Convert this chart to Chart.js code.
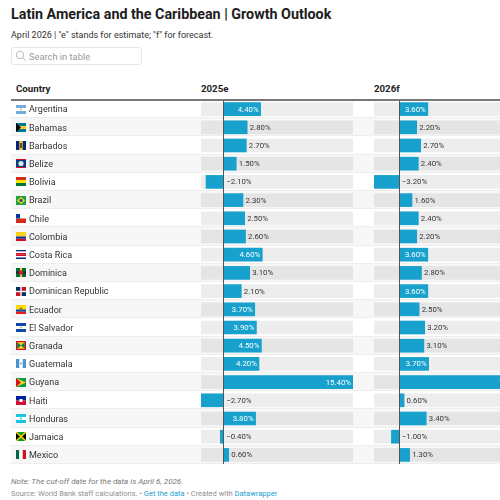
<!DOCTYPE html>
<html>
<head>
<meta charset="utf-8">
<script src="https://cdn.jsdelivr.net/npm/chart.js@4"></script>
<style>
html, body { margin: 0; padding: 0; width: 500px; height: 500px; overflow: hidden; background: #fff; font-family: Roboto, sans-serif; color: #222; }
.abs { position: absolute; white-space: nowrap; }
#title { left: 11px; top: 6px; font-size: 14.3px; font-weight: 700; color: #1d1d1d; }
#sub { left: 11px; top: 30px; font-size: 9px; color: #333; }
#search { left: 11px; top: 47px; width: 129px; height: 16px; border: 1px solid #e6e6e6; border-radius: 3px; }
#search span { position: absolute; left: 17px; top: 3px; font-size: 9.3px; color: #999; }
#search svg { position: absolute; left: 3px; top: 2px; }
.head { top: 83px; font-size: 9.7px; font-weight: 700; color: #222; }
#rule { left: 11px; top: 99px; width: 489px; height: 2px; background: #777; }
.row { position: absolute; left: 11px; width: 489px; box-sizing: border-box; border-bottom: 1px solid #eee; }
.flag { position: absolute; left: 16px; width: 10px; height: 9px; }
#wrap2 { position: absolute; left: 374px; top: 100px; width: 126px; height: 364px; overflow: hidden; }
canvas { display: block; }
#wrap1 { position: absolute; left: 0; top: 100px; }
#note { left: 11px; top: 477px; font-size: 8px; font-style: italic; color: #777; }
#source { left: 11px; top: 489px; font-size: 7.5px; color: #909090; }
#source a { color: #18a1cd; text-decoration: none; }
</style>
</head>
<body>
<div class="abs" id="title">Latin America and the Caribbean | Growth Outlook</div>
<div class="abs" id="sub">April 2026 | "e" stands for estimate; "f" for forecast.</div>
<div class="abs" id="search">
  <svg width="12" height="12" viewBox="0 0 12 12" fill="none" stroke="#bbb" stroke-width="1"><circle cx="5" cy="5" r="3.7"/><path d="M7.8 7.8L11 11"/></svg>
  <span>Search in table</span>
</div>
<div class="abs head" style="left:16px">Country</div>
<div class="abs head" style="left:201px">2025e</div>
<div class="abs head" style="left:374px">2026f</div>
<div id="rows"></div>
<div id="wrap1"><canvas id="chart1" width="353" height="364"></canvas></div>
<div id="wrap2"><canvas id="chart2" width="152" height="364"></canvas></div>
<div class="abs" id="rule"></div>
<div class="abs" id="note">Note: The cut-off date for the data is April 6, 2026.</div>
<div class="abs" id="source">Source: World Bank staff calculations. • <a>Get the data</a> • Created with <a>Datawrapper</a></div>

<script>
var countries = ['Argentina', 'Bahamas', 'Barbados', 'Belize', 'Bolivia', 'Brazil', 'Chile', 'Colombia', 'Costa Rica', 'Dominica',
    'Dominican Republic', 'Ecuador', 'El Salvador', 'Granada', 'Guatemala', 'Guyana', 'Haiti', 'Honduras', 'Jamaica', 'Mexico'];
var growth2025 = [4.4, 2.8, 2.7, 1.5, -2.1, 2.3, 2.5, 2.6, 4.6, 3.1, 2.1, 3.7, 3.9, 4.5, 4.2, 15.4, -2.7, 3.8, -0.4, 0.6];
// Guyana 2026 runs off the page, estimated
var growth2026 = [3.6, 2.2, 2.7, 2.4, -3.2, 1.6, 2.4, 2.2, 3.6, 2.8, 3.6, 2.5, 3.2, 3.1, 3.7, 16.0, 0.6, 3.4, -1.0, 1.3];

var BLUE = '#18a1cd';
var ROW_H = 364 / countries.length;

// small hand drawn flags, just decoration
function bands(colors) {
    var h = 9 / colors.length, s = '';
    colors.forEach(function(c, i) { s += '<rect y="' + (i * h) + '" width="10" height="' + (h + 0.1) + '" fill="' + c + '"/>'; });
    return s;
}
var flags = [
    bands(['#74acdf', '#fff', '#74acdf']) + '<circle cx="5" cy="4.5" r="1" fill="#f6b40e"/>',
    bands(['#00778b', '#ffc72c', '#00778b']) + '<path d="M0 0L5 4.5L0 9Z" fill="#000"/>',
    '<rect width="10" height="9" fill="#ffc726"/><rect width="3.3" height="9" fill="#00267f"/><rect x="6.7" width="3.3" height="9" fill="#00267f"/><rect x="4.4" y="2" width="1.2" height="5" fill="#000"/>',
    '<rect width="10" height="9" fill="#ce1126"/><rect y="1" width="10" height="7" fill="#003f87"/><circle cx="5" cy="4.5" r="2.6" fill="#dfe8d8"/>',
    bands(['#d52b1e', '#f9e300', '#007934']),
    '<rect width="10" height="9" fill="#229e45"/><path d="M5 1L9 4.5L5 8L1 4.5Z" fill="#f8e509"/><circle cx="5" cy="4.5" r="1.7" fill="#2b49a3"/>',
    '<rect width="10" height="4.5" fill="#fff"/><rect y="4.5" width="10" height="4.5" fill="#d52b1e"/><rect width="4" height="4.5" fill="#0039a6"/>',
    '<rect width="10" height="4.5" fill="#fcd116"/><rect y="4.5" width="10" height="2.25" fill="#003893"/><rect y="6.75" width="10" height="2.25" fill="#ce1126"/>',
    bands(['#002b7f', '#fff', '#ce1126', '#ce1126', '#fff', '#002b7f']),
    '<rect width="10" height="9" fill="#006b3f"/><rect x="4" width="2" height="9" fill="#fcd116"/><rect y="3.5" width="10" height="2" fill="#222"/><circle cx="5" cy="4.5" r="2.2" fill="#d41c30"/>',
    '<rect width="10" height="9" fill="#fff"/><rect width="4.3" height="3.8" fill="#002d62"/><rect x="5.7" width="4.3" height="3.8" fill="#ce1126"/><rect y="5.2" width="4.3" height="3.8" fill="#ce1126"/><rect x="5.7" y="5.2" width="4.3" height="3.8" fill="#002d62"/>',
    '<rect width="10" height="4.5" fill="#ffdd00"/><rect y="4.5" width="10" height="2.25" fill="#034ea2"/><rect y="6.75" width="10" height="2.25" fill="#ed1c24"/><circle cx="5" cy="4" r="1.5" fill="#8a6d2f"/>',
    bands(['#0f47af', '#fff', '#0f47af']) + '<circle cx="5" cy="4.5" r="1" fill="#c9b458"/>',
    '<rect width="10" height="9" fill="#ce1126"/><rect x="1.2" y="1.2" width="7.6" height="6.6" fill="#fcd116"/><path d="M1.2 1.2L8.8 7.8V1.2L1.2 7.8Z" fill="#007a5e"/>',
    '<rect width="10" height="9" fill="#4997d0"/><rect x="3.3" width="3.4" height="9" fill="#fff"/><circle cx="5" cy="4.5" r="1" fill="#8bb48c"/>',
    '<rect width="10" height="9" fill="#009e49"/><path d="M0 0L10 4.5L0 9Z" fill="#fcd116"/><path d="M0 0L5 4.5L0 9Z" fill="#ce1126"/>',
    '<rect width="10" height="4.5" fill="#00209f"/><rect y="4.5" width="10" height="4.5" fill="#d21034"/><rect x="3.5" y="3" width="3" height="3" fill="#fff"/>',
    bands(['#18c3df', '#fff', '#18c3df']) + '<circle cx="5" cy="4.5" r="0.9" fill="#18c3df"/>',
    '<rect width="10" height="9" fill="#009b3a"/><path d="M0 0L5 4.5L0 9Z" fill="#000"/><path d="M10 0L5 4.5L10 9Z" fill="#000"/><path d="M0 0L10 9M10 0L0 9" stroke="#fed100" stroke-width="1.5"/>',
    '<rect width="3.3" height="9" fill="#006847"/><rect x="3.3" width="3.4" height="9" fill="#fff"/><rect x="6.7" width="3.3" height="9" fill="#ce1126"/>'
];

// striped rows and flags sit behind the transparent canvases
var rowsHtml = '';
countries.forEach(function(name, i) {
    var top = 100 + i * ROW_H;
    rowsHtml += '<div class="row" style="top:' + top + 'px;height:' + ROW_H + 'px;background:' + (i % 2 ? '#f7f7f7' : '#fff') + '"></div>';
    rowsHtml += '<svg class="flag" style="top:' + (top + 4.6) + 'px" viewBox="0 0 10 9" preserveAspectRatio="none">' + flags[i] + '</svg>';
});
document.getElementById('rows').innerHTML = rowsHtml;

// value labels: white inside the end of long bars, otherwise just right of the bar or zero line
// country names go here too, the axis ticks sit about a pixel too high
var valueLabels = {
    id: 'valueLabels',
    afterDraw: function(chart) {
        var ctx = chart.ctx;
        var meta = chart.getDatasetMeta(0);
        var yScale = chart.scales.y;
        var zero = chart.scales.x.getPixelForValue(0);
        ctx.save();
        ctx.textBaseline = 'middle';
        meta.data.forEach(function(bar, i) {
            var v = chart.data.datasets[0].data[i];
            var text = (v < 0 ? '\u2212' : '') + Math.abs(v).toFixed(2) + '%';
            ctx.font = '7.8px Roboto';
            if (v >= 3.5) {
                ctx.fillStyle = '#fff';
                ctx.textAlign = 'right';
                ctx.fillText(text, bar.x - 2, bar.y + 0.5);
            } else {
                ctx.fillStyle = '#333';
                ctx.textAlign = 'left';
                ctx.fillText(text, Math.max(bar.x, zero) + 2.5, bar.y + 0.5);
            }
            if (yScale.options.display) {
                ctx.font = '9px Roboto';
                ctx.fillStyle = '#333';
                ctx.textAlign = 'left';
                ctx.fillText(chart.data.labels[i], yScale.left, yScale.getPixelForTick(i) + 1);
            }
        });
        ctx.restore();
    }
};

function renderChart(canvasId, values, showCountries) {
    var lo = Math.min.apply(null, values);
    var hi = Math.max.apply(null, values);
    new Chart(document.getElementById(canvasId), {
        type: 'bar',
        data: {
            labels: countries,
            datasets: [{
                data: values,
                backgroundColor: BLUE,
                barThickness: 13,
                order: 1
            }, {
                data: values.map(function() { return [lo, hi]; }),
                backgroundColor: 'rgba(0, 0, 0, 0.07)',
                barThickness: 13,
                order: 2
            }]
        },
        options: {
            indexAxis: 'y',
            responsive: false,
            animation: false,
            devicePixelRatio: 1,
            layout: { padding: { left: showCountries ? 29 : 0, right: 0, top: 0, bottom: 0 } },
            datasets: { bar: { grouped: false } },
            plugins: { legend: { display: false }, tooltip: { enabled: false } },
            scales: {
                x: {
                    min: lo,
                    max: hi,
                    afterBuildTicks: function(scale) { scale.ticks = [{ value: 0 }]; },
                    ticks: { display: false },
                    border: { display: false },
                    grid: { color: '#555', lineWidth: 1, drawTicks: false, z: 1 }
                },
                y: {
                    display: showCountries,
                    afterFit: function(scale) {
                        // keep rows flush with the header rule, no extra room for the first and last label
                        scale.width = showCountries ? 172 : 0;
                        scale.paddingTop = 0;
                        scale.paddingBottom = 0;
                    },
                    grid: { display: false },
                    border: { display: false },
                    ticks: { display: false, autoSkip: false }
                }
            }
        },
        plugins: [valueLabels]
    });
}

renderChart('chart1', growth2025, true);
renderChart('chart2', growth2026, false);
</script>
</body>
</html>
